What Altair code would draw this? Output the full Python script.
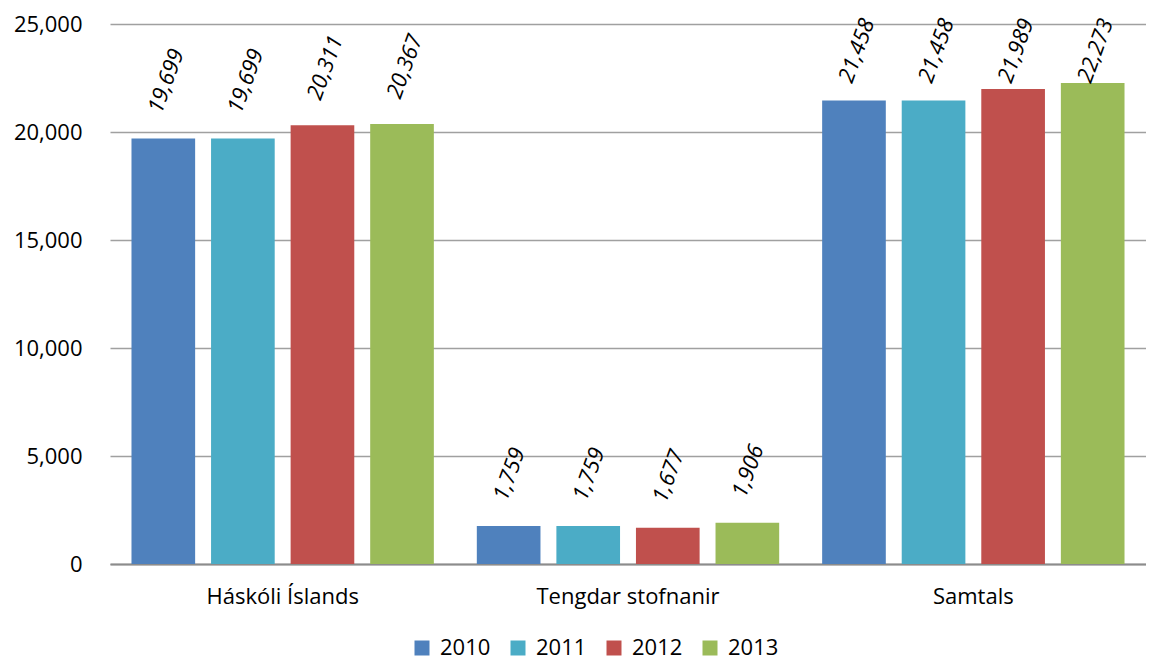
import altair as alt
import pandas as pd

categories = ["Háskóli Íslands", "Tengdar stofnanir", "Samtals"]
years = ["2010", "2011", "2012", "2013"]
values_2010 = [19699, 1759, 21458]
values_2011 = [19699, 1759, 21458]
values_2012 = [20311, 1677, 21989]
values_2013 = [20367, 1906, 22273]
colors = ["#4F81BD", "#4BACC6", "#C0504D", "#9BBB59"]
y_ticks = [0, 5000, 10000, 15000, 20000, 25000]

# Excel keeps rotated data labels inside the chart area: the label anchor is
# clamped to this level so the tallest labels are pushed down.
LABEL_CAP = 21100

rows = []
for yr, vals in zip(years, [values_2010, values_2011, values_2012, values_2013]):
    for c, v in zip(categories, vals):
        rows.append({"Flokkur": c, "Ár": yr, "Fjöldi": v})
df = pd.DataFrame(rows)

FONT = "Open Sans"

x = alt.X(
    "Flokkur:N",
    sort=categories,
    scale=alt.Scale(paddingInner=0, paddingOuter=0),
    axis=alt.Axis(
        title=None, labelAngle=0, labelFontSize=22, labelFont=FONT,
        labelColor="black", ticks=False, tickSize=0, domainColor="#8c8c8c",
        domainWidth=2, labelPadding=22, labelLimit=0,
    ),
)
xo = alt.XOffset("Ár:N", sort=years, scale=alt.Scale(paddingInner=0.2, paddingOuter=0.27))
y_axis = alt.Axis(
    title=None, values=y_ticks, labelExpr="format(datum.value, ',')",
    grid=True, gridColor="#a0a0a0", gridWidth=1.5, domain=False, ticks=False,
    tickSize=0, labelPadding=28, labelFontSize=22, labelFont=FONT,
    labelColor="black",
)
y = alt.Y("Fjöldi:Q", scale=alt.Scale(domain=[0, 25000], nice=False), axis=y_axis)
color = alt.Color(
    "Ár:N",
    scale=alt.Scale(domain=years, range=colors),
    legend=alt.Legend(
        title=None, orient="none", legendX=301, legendY=613, direction="horizontal",
        symbolType="square", symbolSize=225, labelFontSize=22, labelFont=FONT,
        labelColor="black", columnPadding=16, labelOffset=7, padding=0,
        symbolStrokeWidth=0,
    ),
)

bars = alt.Chart(df).mark_bar().encode(x=x, xOffset=xo, y=y, color=color)
labels = (
    alt.Chart(df)
    .transform_calculate(pos=f"min(datum['Fjöldi'], {LABEL_CAP})")
    .mark_text(
        angle=290, align="left", baseline="middle", dx=22, dy=-17,
        fontStyle="italic", fontSize=22, font=FONT, color="black",
    )
    .encode(
        x=x, xOffset=xo,
        y=alt.Y("pos:Q", scale=alt.Scale(domain=[0, 25000], nice=False), axis=y_axis),
        text=alt.Text("Fjöldi:Q", format=","),
    )
)

chart = (
    (bars + labels)
    .properties(
        width=1036, height=540,
        autosize=alt.AutoSizeParams(type="none"),
        padding={"left": 102, "top": 16, "right": 0, "bottom": 97},
    )
    .configure_view(stroke=None)
)

chart.save("out.html", embed_options={"renderer": "svg", "actions": False})
